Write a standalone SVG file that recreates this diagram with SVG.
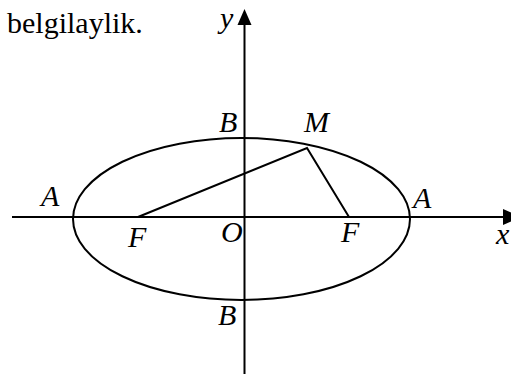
<svg xmlns="http://www.w3.org/2000/svg" width="511" height="374" viewBox="0 0 511 374">
<style>
.ln{stroke:#000;stroke-width:2;fill:none}
.ar{fill:#000;stroke:none}
.t{font-family:"Liberation Serif","Times New Roman",Times,serif;font-size:30px;fill:#000}
.i{font-style:italic}
</style>
<rect width="511" height="374" fill="#fff"/>
<text class="t" x="7" y="33">belgilaylik.</text>
<g id="axes">
<line class="ln" x1="12" y1="217" x2="505" y2="217"/>
<polygon class="ar" points="503,209 521,217 503,225"/>
<line class="ln" x1="244.5" y1="374" x2="244.5" y2="23"/>
<polygon class="ar" points="237.5,25 244.5,9 251.5,25"/>
<text class="t i" x="496" y="244">x</text>
<text class="t i" x="220" y="28">y</text>
</g>
<g id="ellipse">
<ellipse class="ln" cx="241.5" cy="219" rx="168.5" ry="81"/>
</g>
<g id="connectors">
<polyline class="ln" points="138,217 307,148 349,217"/>
</g>
<g id="labels">
<text class="t i" x="41" y="206">A</text>
<text class="t i" x="413" y="208">A</text>
<text class="t i" x="219" y="132">B</text>
<text class="t i" x="218" y="325">B</text>
<text class="t i" x="304" y="132">M</text>
<text class="t i" x="128" y="247">F</text>
<text class="t i" x="341" y="242">F</text>
<text class="t i" x="221" y="242">O</text>
</g>
</svg>
